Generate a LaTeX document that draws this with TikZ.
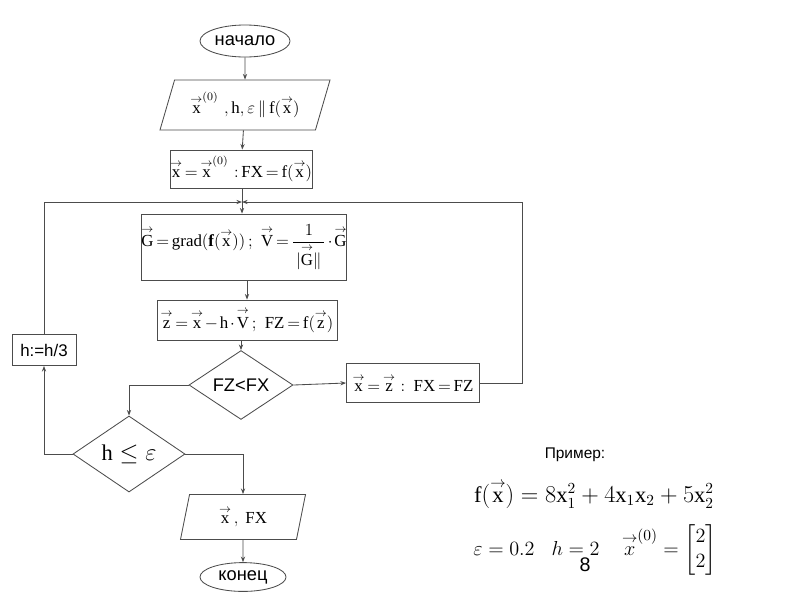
\documentclass[tikz,border=0pt]{standalone}
\usepackage{amsmath,amssymb}
\usepackage{fontspec}
\setmainfont{Liberation Serif}
\setsansfont{Liberation Sans}
\usepackage{tikz}
\usetikzlibrary{positioning,shapes.geometric,arrows.meta}
\newcommand{\vecar}[1]{\overset{\rightarrow}{\mathrm{#1}}}
\newcommand{\rmf}{\mathrm{f}}
\newcommand{\tightmath}{\thickmuskip=3mu plus 2mu\medmuskip=2mu plus 1mu}
\tikzstyle{base} = [draw=black!70, line width=0.6pt, inner sep=0pt, font=\fontsize{12}{14}\selectfont\tightmath]
\tikzstyle{term} = [base, ellipse, font=\sffamily\fontsize{13}{15}\selectfont]
\tikzstyle{io} = [base, trapezium, trapezium stretches body=true]
\tikzstyle{proc} = [base, rectangle]
\tikzstyle{test} = [base, diamond]
\tikzstyle{wire} = [draw=black!70, line width=0.6pt]
\tikzstyle{flow} = [wire, -{Stealth[length=4pt,width=3pt]}]

\begin{document}
\begin{tikzpicture}[x=0.025cm, y=-0.025cm]
			\useasboundingbox[fill=white] (0,0) rectangle (800,600);
			\node[term, minimum width=2.25cm, minimum height=0.8cm] (start) at (245,41) {начало};
			\node[io, trapezium left angle=60, trapezium right angle=120, minimum width=4.25cm, minimum height=1.25cm] (inp) at (245,105) {$\vecar{x}^{(0)}\;\;,\mathrm{h},\varepsilon\,\|\,\rmf(\vecar{x})$};
			\node[proc, minimum width=3.3cm, minimum height=0.95cm] (init) at (241,169) {$\vecar{x}=\vecar{x}^{(0)}\;:\mathrm{FX}=\rmf(\vecar{x})$};
			\node[proc, minimum width=5.05cm, minimum height=1.65cm] (grad) at (244,247) {$\vecar{G}=\mathrm{grad}(\mathbf{f}(\vecar{x}))\,;\;\;\vecar{V}=\dfrac{1}{\,|\vecar{G}\|\,}\cdot\vecar{G}$};
			\node[proc, minimum width=4.5cm, minimum height=1cm] (trial) at (247,320) {$\vecar{z}=\vecar{x}-\mathrm{h}\cdot\vecar{V}\,;\;\;\mathrm{FZ}=\rmf(\vecar{z})$};
			\node[test, minimum width=2.6cm, minimum height=1.25cm, font=\sffamily\fontsize{13}{15}\selectfont] (cmp) at (241,385) {FZ<FX};
			\node[proc, minimum width=3.325cm, minimum height=0.975cm] (upd) at (413,383) {$\vecar{x}=\vecar{z}\,:\;\;\mathrm{FX}=\mathrm{FZ}$};
			\node[proc, minimum width=1.6cm, minimum height=0.775cm, font=\sffamily\fontsize{12}{14}\selectfont] (hdiv) at (44,350) {h:=h/3};
			\node[test, minimum width=2.8cm, minimum height=1.9cm, font=\fontsize{16}{18}\selectfont] (chk) at (129,454) {$\mathrm{h}\le\varepsilon$};
			\node[io, trapezium left angle=66, trapezium right angle=114, minimum width=3.125cm, minimum height=1.125cm] (out) at (243,517) {$\vecar{x}\,,\ \mathrm{FX}$};
			\node[term, minimum width=2.15cm, minimum height=0.72cm] (stop) at (243,577) {конец};
			\coordinate (j) at (242,202);
			\coordinate (r) at (522,202);
			\draw[flow] (start) -- (inp);
			\draw[flow] (inp) -- (init);
			\draw[wire] (init.south -| j) -- (j);
			\draw[flow] (j) -- (j |- grad.north);
			\draw[flow] (grad.south -| trial.north) -- (trial.north);
			\draw[flow] (trial.south -| cmp.north) -- (cmp.north);
			\draw[flow] (cmp.east) -- (upd.west);
			\draw[flow] (upd.east) -| (r) -- (j);
			\draw[flow] (cmp.west) -| (chk.north);
			\draw[flow] (chk.west) -| (hdiv.south);
			\draw[flow] (hdiv.north) |- (j);
			\draw[flow] (chk.east) -| (out.north);
			\draw[flow] (out) -- (stop);
			\node[font=\sffamily\fontsize{11}{13}\selectfont] (ex) at (575,455) {Пример:};
			\node[font=\fontsize{16}{19}\selectfont] (fx) at (594,494) {$\rmf(\vecar{x})=8\mathrm{x}_1^2+4\mathrm{x}_1\mathrm{x}_2+5\mathrm{x}_2^2$};
			\node[font=\fontsize{15}{18}\selectfont] (data) at (595,550) {$\varepsilon=0.2\;\;\; h=2\;\;\;\; \overset{\rightarrow}{x}^{(0)}=\begin{bmatrix}2\\2\end{bmatrix}$};
			\node[font=\sffamily\fontsize{14}{16}\selectfont] (pg) at (585,565) {8};
		\end{tikzpicture}
\end{document}
